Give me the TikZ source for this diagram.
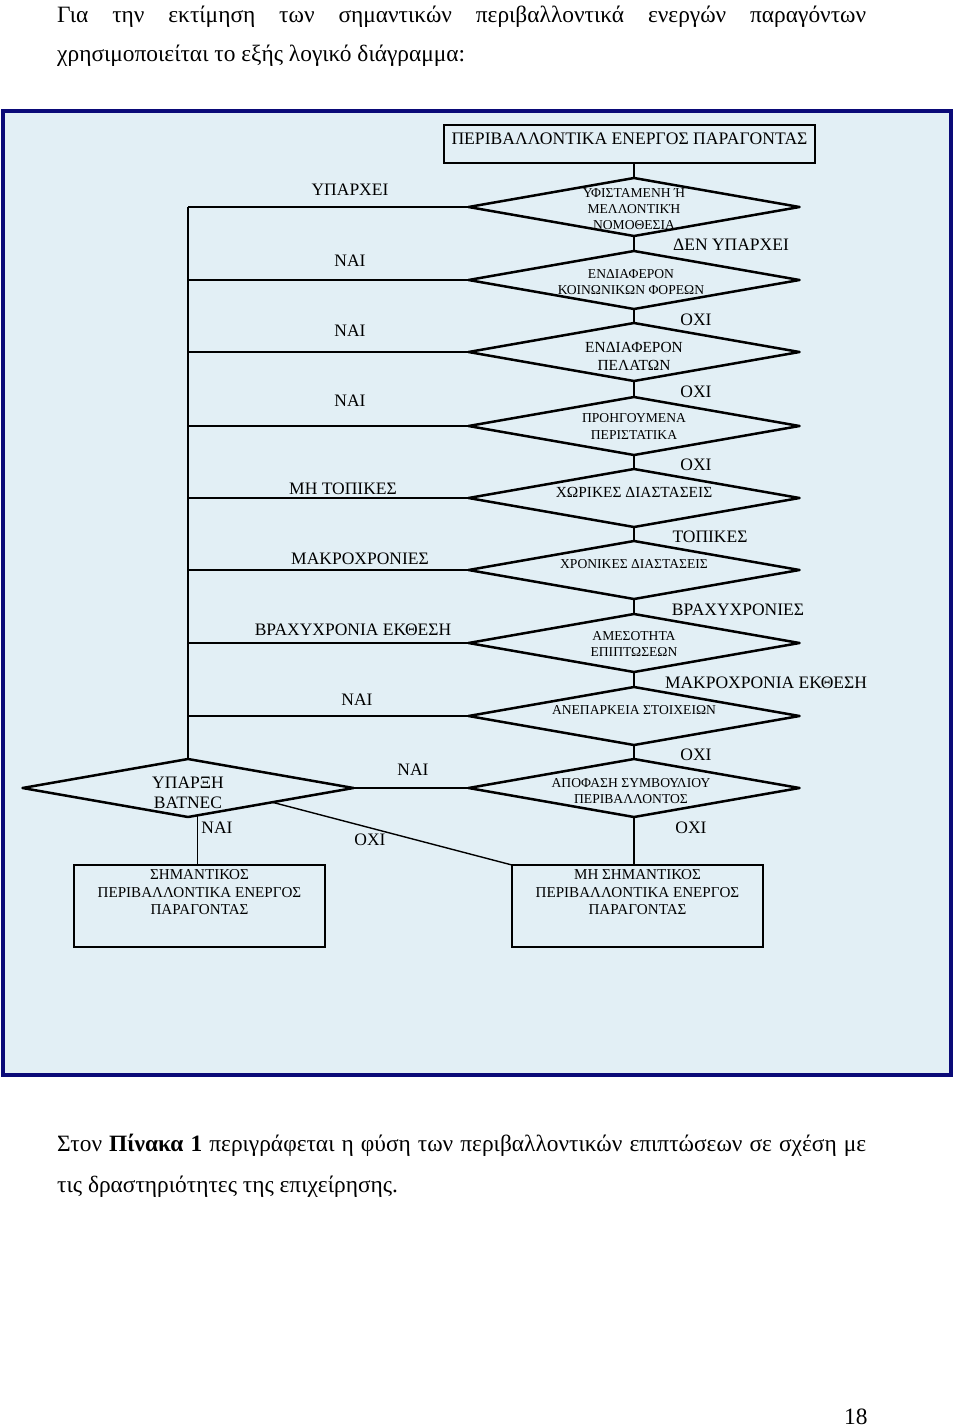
\documentclass[tikz,border=0pt]{standalone}
\usepackage{fontspec}
\setmainfont{Liberation Serif}
\usetikzlibrary{shapes.geometric,calc}
\definecolor{framefill}{RGB}{226,239,245}
\definecolor{framenavy}{RGB}{10,10,120}
\begin{document}
\begin{tikzpicture}[x=1pt,y=-1pt,
 dia/.style={diamond,draw,line width=2.5pt,line join=round,minimum width=331pt,minimum height=58pt,inner sep=0pt,outer sep=0pt},
 box/.style={rectangle,draw,line width=1.4pt,inner sep=0pt,outer sep=0pt},
 lab/.style={font=\fontsize{17.5}{20}\selectfont,inner sep=0pt,align=center},
 small/.style={font=\fontsize{13.6}{16}\selectfont,inner sep=0pt,align=center},
 smallb/.style={font=\fontsize{13.6}{17}\selectfont,inner sep=0pt,align=center},
 med/.style={font=\fontsize{15.4}{18}\selectfont,inner sep=0pt,align=center},
 boxtxt/.style={font=\fontsize{15.1}{17.5}\selectfont,inner sep=0pt,align=center},
 body/.style={font=\fontsize{23.4}{26}\selectfont,inner sep=0pt,anchor=base west},
 hline/.style={line width=2.5pt},
 thinline/.style={line width=1.4pt}]
\useasboundingbox (0,0) rectangle (960,1427);
\fill[white] (0,0) rectangle (960,1427);
% frame
\fill[framefill] (3,110.5) rectangle (951,1075);
\draw[framenavy,line width=4pt] (3,110.5) rectangle (951,1075);

% body text
\node[body] (p1) at (57,22) {\makebox[809pt][s]{Για την εκτίμηση των σημαντικών περιβαλλοντικά ενεργών παραγόντων}};
\node[body] (p2) at (57,61) {χρησιμοποιείται το εξής λογικό διάγραμμα:};
\node[body] (p3) at (57,1151) {\makebox[809pt][s]{Στον \textbf{Πίνακα 1} περιγράφεται η φύση των περιβαλλοντικών επιπτώσεων σε σχέση με}};
\node[body] (p4) at (57,1192) {τις δραστηριότητες της επιχείρησης.};
\node[body] (pg) at (844,1424) {18};

% top box
\node[box,minimum width=371pt,minimum height=38pt] (top) at (629.5,144) {};
\node[lab,font=\fontsize{17.6}{20}\selectfont] (toptxt) at (629.5,139) {ΠΕΡΙΒΑΛΛΟΝΤΙΚΑ ΕΝΕΡΓΟΣ ΠΑΡΑΓΟΝΤΑΣ};

% diamonds
\node[dia] (d1) at (634,207) {};
\node[dia] (d2) at (634,280) {};
\node[dia] (d3) at (634,352) {};
\node[dia] (d4) at (634,426) {};
\node[dia] (d5) at (634,498) {};
\node[dia] (d6) at (634,570) {};
\node[dia] (d7) at (634,643) {};
\node[dia] (d8) at (634,716) {};
\node[dia] (ap) at (634,788) {};
\node[dia] (y) at (188,788) {};

% final boxes
\node[box,minimum width=251pt,minimum height=82pt] (sig) at (199.5,906) {};
\node[box,minimum width=251pt,minimum height=82pt] (mh) at (637.5,906) {};

% connectors
\draw[thinline] (d1.north) -- (d1.north |- top.south);
\draw[thinline] (d1.south) -- (d2.north);
\draw[thinline] (d2.south) -- (d3.north);
\draw[thinline] (d3.south) -- (d4.north);
\draw[thinline] (d4.south) -- (d5.north);
\draw[thinline] (d5.south) -- (d6.north);
\draw[thinline] (d6.south) -- (d7.north);
\draw[thinline] (d7.south) -- (d8.north);
\draw[thinline] (d8.south) -- (ap.north);
\foreach \d in {d1,d2,d3,d4,d5,d6,d7,d8}
  \draw[hline] (\d.west) -- (\d.west -| y.north);
\draw[line width=2pt] (d1.west -| y.north) -- (y.north);
\draw[hline] (y.east) -- (ap.west);
\coordinate (yb) at ($(y.south)!0.0545!(y.east)$);
\coordinate (yr) at ($(y.south)!0.509!(y.east)$);
\draw[line width=1pt] (yb) -- (yb |- sig.north);
\draw[thinline] (yr) -- (mh.north west);
\draw[thinline] (ap.south) -- (ap.south |- mh.north);

% diamond texts
\node[small] (t1) at (634,209) {ΥΦΙΣΤΑΜΕΝΗ Ή\\ΜΕΛΛΟΝΤΙΚΉ\\ΝΟΜΟΘΕΣΙΑ};
\node[small] (t2) at (631,282) {ΕΝΔΙΑΦΕΡΟΝ\\ΚΟΙΝΩΝΙΚΩΝ ΦΟΡΕΩΝ};
\node[med] (t3) at (634,356) {ΕΝΔΙΑΦΕΡΟΝ\\ΠΕΛΑΤΩΝ};
\node[smallb] (t4) at (634,426.5) {ΠΡΟΗΓΟΥΜΕΝΑ\\ΠΕΡΙΣΤΑΤΙΚΑ};
\node[med] (t5) at (634,492) {ΧΩΡΙΚΕΣ ΔΙΑΣΤΑΣΕΙΣ};
\node[small] (t6) at (634,564) {ΧΡΟΝΙΚΕΣ ΔΙΑΣΤΑΣΕΙΣ};
\node[small] (t7) at (634,644) {ΑΜΕΣΟΤΗΤΑ\\ΕΠΙΠΤΩΣΕΩΝ};
\node[small] (t8) at (634,710) {ΑΝΕΠΑΡΚΕΙΑ ΣΤΟΙΧΕΙΩΝ};
\node[small] (t9) at (631,791) {ΑΠΟΦΑΣΗ ΣΥΜΒΟΥΛΙΟΥ\\ΠΕΡΙΒΑΛΛΟΝΤΟΣ};
\node[lab] (ty) at (188,793) {ΥΠΑΡΞΗ\\ΒΑΤΝΕC};

% box texts
\node[boxtxt] (sigtxt) at (199.5,892.5) {ΣΗΜΑΝΤΙΚΟΣ\\ΠΕΡΙΒΑΛΛΟΝΤΙΚΑ ΕΝΕΡΓΟΣ\\ΠΑΡΑΓΟΝΤΑΣ};
\node[boxtxt] (mhtxt) at (637.5,892.5) {ΜΗ ΣΗΜΑΝΤΙΚΟΣ\\ΠΕΡΙΒΑΛΛΟΝΤΙΚΑ ΕΝΕΡΓΟΣ\\ΠΑΡΑΓΟΝΤΑΣ};

% left labels
\node[lab] (l1) at (350,190) {ΥΠΑΡΧΕΙ};
\node[lab] (l2) at (350,261) {ΝΑΙ};
\node[lab] (l3) at (350,331) {ΝΑΙ};
\node[lab] (l4) at (350,401) {ΝΑΙ};
\node[lab] (l5) at (343,489) {ΜΗ ΤΟΠΙΚΕΣ};
\node[lab] (l6) at (360,559) {ΜΑΚΡΟΧΡΟΝΙΕΣ};
\node[lab] (l7) at (353,630) {ΒΡΑΧΥΧΡΟΝΙΑ ΕΚΘΕΣΗ};
\node[lab] (l8) at (357,700) {ΝΑΙ};
% right labels
\node[lab] (r1) at (731,245) {ΔΕΝ ΥΠΑΡΧΕΙ};
\node[lab] (r2) at (696,320) {ΟΧΙ};
\node[lab] (r3) at (696,392) {ΟΧΙ};
\node[lab] (r4) at (696,465) {ΟΧΙ};
\node[lab] (r5) at (710,537) {ΤΟΠΙΚΕΣ};
\node[lab] (r6) at (738,610) {ΒΡΑΧΥΧΡΟΝΙΕΣ};
\node[lab] (r7) at (766,683) {ΜΑΚΡΟΧΡΟΝΙΑ ΕΚΘΕΣΗ};
\node[lab] (r8) at (696,755) {ΟΧΙ};
\node[lab] (r9) at (691,828) {ΟΧΙ};
% bottom labels
\node[lab] (b1) at (413,770) {ΝΑΙ};
\node[lab] (b2) at (217,828) {ΝΑΙ};
\node[lab] (b3) at (370,840) {ΟΧΙ};
\end{tikzpicture}
\end{document}
